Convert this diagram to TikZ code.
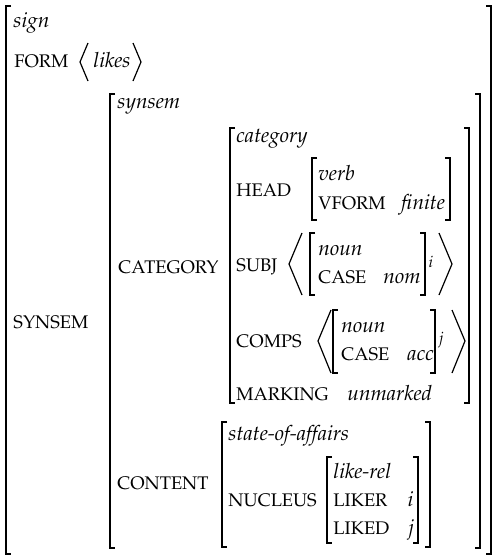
\documentclass[tikz,border=0pt]{standalone}
\usepackage[T1]{fontenc}
\usepackage[sc]{mathpazo}
\usetikzlibrary{positioning}

\begin{document}
\begin{tikzpicture}[x=0.41667pt, y=-0.41667pt,
    brk/.style = {line width=0.5pt},
    attr/.style = {anchor=base west, inner sep=0pt, font=\fontsize{7.6}{9}\selectfont},
    val/.style = {anchor=base west, inner sep=0pt, font=\fontsize{8.7}{10}\selectfont\itshape},
    idx/.style = {anchor=base west, inner sep=0pt, font=\fontsize{8.7}{10}\selectfont}]
    \useasboundingbox (0,0) rectangle (492,555);

    % Brackets: left x / right x / top / bottom
    \foreach \l/\r/\t/\b in {6/491/6/554, 110/480/94/548, 230/469/128/403,
        312/450/158/220, 310/425/233/295, 333/435/310/373,
        222/430/422/547, 327/418/457/543}{
        \draw[brk] (\l+5,\t) -- (\l,\t) -- (\l,\b) -- (\l+5,\b);
        \draw[brk] (\r-5,\t) -- (\r,\t) -- (\r,\b) -- (\r-5,\b);
    }

    % Angle brackets
    \draw[brk] (88,43) -- (80,62) -- (88,81);
    \draw[brk] (133,43) -- (141,62) -- (133,81);
    \draw[brk] (302,233) -- (289,264) -- (302,295);
    \draw[brk] (439,233) -- (452,264) -- (439,295);
    \draw[brk] (331,310) -- (318,341) -- (331,373);
    \draw[brk] (452,310) -- (465,341) -- (452,373);

    % sign
    \node[val] (sign) at (13,27) {sign};
    \node[attr] (form) at (14,67) {FORM};
    \node[val] (likes) at (93,67) {likes};
    \node[attr] (synsemattr) at (13,328) {SYNSEM};

    % synsem
    \node[val] (synsem) at (117,108) {synsem};
    \node[attr] (catattr) at (118,273) {CATEGORY};
    \node[attr] (contattr) at (117,489) {CONTENT};

    % category
    \node[val] (category) at (236,142) {category};
    \node[attr] (head) at (236,196) {HEAD};
    \node[attr] (subj) at (236,271) {SUBJ};
    \node[attr] (comps) at (236,347) {COMPS};
    \node[attr] (marking) at (236,400) {MARKING};
    \node[val] (unmarked) at (347,400) {unmarked};

    % head value
    \node[val] (verb) at (318,180) {verb};
    \node[attr] (vform) at (318,209) {VFORM};
    \node[val] (finite) at (401,209) {finite};

    % subj value
    \node[val] (nouni) at (318,255) {noun};
    \node[attr] (casei) at (318,283) {CASE};
    \node[val] (nom) at (383,283) {nom};
    \node[idx] (idxi) at (428,267) {$\scriptstyle i$};

    % comps value
    \node[val] (nounj) at (341,332) {noun};
    \node[attr] (casej) at (341,360) {CASE};
    \node[val] (acc) at (407,360) {acc};
    \node[idx] (idxj) at (438,343) {$\scriptstyle j$};

    % content
    \node[val] (soa) at (228,440) {state-of-affairs};
    \node[attr] (nucleus) at (228,506) {NUCLEUS};
    \node[val] (likerel) at (333,478) {like-rel};
    \node[attr] (liker) at (333,506) {LIKER};
    \node[idx] (liki) at (407,506) {$i$};
    \node[attr] (liked) at (333,534) {LIKED};
    \node[idx] (likj) at (407,534) {$j$};
\end{tikzpicture}
\end{document}
